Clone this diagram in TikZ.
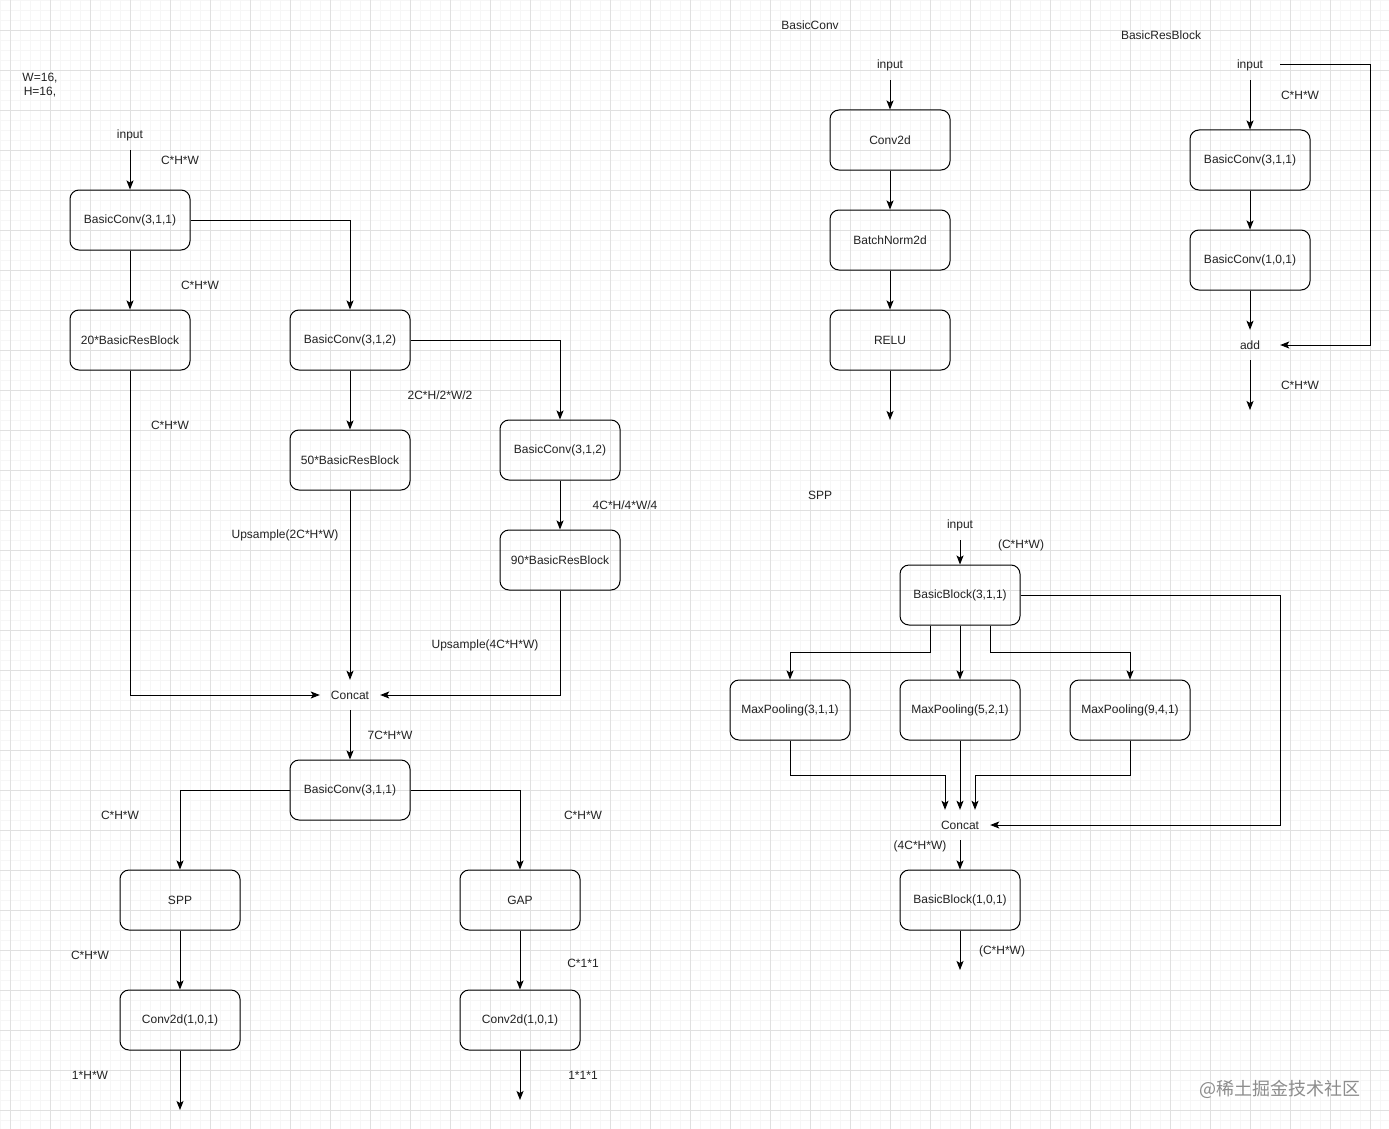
\documentclass[tikz,border=0pt]{standalone}
\usepackage{fontspec}
\setmainfont{Liberation Sans}
\newfontfamily\cjkfont{Noto Sans CJK SC}
\usetikzlibrary{arrows.meta}
\definecolor{gridmajor}{HTML}{E0E0E0}
\definecolor{gridminor}{HTML}{F6F6F6}
\definecolor{txt}{HTML}{222222}
\begin{document}
\begin{tikzpicture}[x=1pt,y=-1pt,
  every node/.style={font=\fontsize{12}{14}\selectfont, text=txt},
  box/.style={draw, rounded corners=9pt, line width=1pt, minimum width=120pt, minimum height=60pt, inner sep=0pt},
  term/.style={minimum width=60pt, minimum height=30pt, inner sep=0pt},
  lbl/.style={inner sep=0pt},
  conn/.style={line width=1pt, -{Stealth[length=9pt,width=7pt,inset=2pt]}},
  wire/.style={line width=1pt}]
\useasboundingbox (0,0) rectangle (1389,1129);
\fill[white] (0,0) rectangle (1389,1129);
% grid
\foreach \i in {0,10,...,1380} \draw[gridminor, line width=0.6pt] (\i,0) -- (\i,1129);
\foreach \j in {0,10,...,1120} \draw[gridminor, line width=0.6pt] (0,\j) -- (1389,\j);
\foreach \i in {10,50,...,1370} \draw[gridmajor, line width=0.8pt] (\i,0) -- (\i,1129);
\foreach \j in {30,70,...,1110} \draw[gridmajor, line width=0.8pt] (0,\j) -- (1389,\j);

% ---------------- left diagram ----------------
\node[lbl, align=center] (wh) at (40,85) {W=16,\\H=16,};
\node[term] (in1) at (130,135) {input};
\node[box] (bc1) at (130,220) {BasicConv(3,1,1)};
\node[box] (rb20) at (130,340) {20*BasicResBlock};
\node[box] (bc2) at (350,340) {BasicConv(3,1,2)};
\node[box] (rb50) at (350,460) {50*BasicResBlock};
\node[box] (bc3) at (560,450) {BasicConv(3,1,2)};
\node[box] (rb90) at (560,560) {90*BasicResBlock};
\node[term] (cat1) at (350,695) {Concat};
\node[box] (bc4) at (350,790) {BasicConv(3,1,1)};
\node[box] (spp) at (180,900) {SPP};
\node[box] (gap) at (520,900) {GAP};
\node[box] (cv1) at (180,1020) {Conv2d(1,0,1)};
\node[box] (cv2) at (520,1020) {Conv2d(1,0,1)};
\coordinate (o1) at (180,1110);
\coordinate (o2) at (520,1100);

\node[lbl] (l1) at (180,160) {C*H*W};
\node[lbl] (l2) at (200,285) {C*H*W};
\node[lbl] (l3) at (170,425) {C*H*W};
\node[lbl] (l4) at (440,395) {2C*H/2*W/2};
\node[lbl] (l5) at (625,505) {4C*H/4*W/4};
\node[lbl] (l6) at (285,535) {Upsample(2C*H*W)};
\node[lbl] (l7) at (485,645) {Upsample(4C*H*W)};
\node[lbl] (l8) at (390,735) {7C*H*W};
\node[lbl] (l9) at (120,815) {C*H*W};
\node[lbl] (l10) at (583,815) {C*H*W};
\node[lbl] (l11) at (90,955) {C*H*W};
\node[lbl] (l12) at (583,963) {C*1*1};
\node[lbl] (l13) at (90,1075) {1*H*W};
\node[lbl] (l14) at (583,1075) {1*1*1};

\draw[conn] (in1.south) -- (bc1.north);
\draw[conn] (bc1.south) -- (rb20.north);
\draw[conn] (bc1.east) -| (bc2.north);
\draw[conn] (bc2.south) -- (rb50.north);
\draw[conn] (bc2.east) -| (bc3.north);
\draw[conn] (bc3.south) -- (rb90.north);
\draw[conn] (rb20.south) |- (cat1.west);
\draw[conn] (rb50.south) -- (cat1.north);
\draw[conn] (rb90.south) |- (cat1.east);
\draw[conn] (cat1.south) -- (bc4.north);
\draw[conn] (bc4.west) -| (spp.north);
\draw[conn] (bc4.east) -| (gap.north);
\draw[conn] (spp.south) -- (cv1.north);
\draw[conn] (gap.south) -- (cv2.north);
\draw[conn] (cv1.south) -- (o1);
\draw[conn] (cv2.south) -- (o2);

% ---------------- BasicConv ----------------
\node[lbl] (t1) at (810,25) {BasicConv};
\node[term] (in2) at (890,65) {input};
\node[box] (c2d) at (890,140) {Conv2d};
\node[box] (bn) at (890,240) {BatchNorm2d};
\node[box] (relu) at (890,340) {RELU};
\coordinate (o3) at (890,420);
\draw[conn] (in2.south) -- (c2d.north);
\draw[conn] (c2d.south) -- (bn.north);
\draw[conn] (bn.south) -- (relu.north);
\draw[conn] (relu.south) -- (o3);

% ---------------- BasicResBlock ----------------
\node[lbl] (t2) at (1161,35) {BasicResBlock};
\node[term] (in3) at (1250,65) {input};
\node[box] (r1) at (1250,160) {BasicConv(3,1,1)};
\node[box] (r2) at (1250,260) {BasicConv(1,0,1)};
\node[term] (add) at (1250,345) {add};
\coordinate (o4) at (1250,410);
\coordinate (rc) at (1370,65);
\node[lbl] (l15) at (1300,95) {C*H*W};
\node[lbl] (l16) at (1300,385) {C*H*W};
\draw[conn] (in3.south) -- (r1.north);
\draw[conn] (r1.south) -- (r2.north);
\draw[conn] (r2.south) -- (add.north);
\draw[conn] (add.south) -- (o4);
\draw[conn] (in3.east) -- (rc) |- (add.east);

% ---------------- SPP ----------------
\node[lbl] (t3) at (820,495) {SPP};
\node[term] (in4) at (960,525) {input};
\node[lbl] (l17) at (1021,545) {(C*H*W)};
\node[box] (bb1) at (960,595) {BasicBlock(3,1,1)};
\node[box] (mp1) at (790,710) {MaxPooling(3,1,1)};
\node[box] (mp2) at (960,710) {MaxPooling(5,2,1)};
\node[box] (mp3) at (1130,710) {MaxPooling(9,4,1)};
\node[term] (cat2) at (960,825) {Concat};
\node[lbl] (l18) at (920,846) {(4C*H*W)};
\node[box] (bb2) at (960,900) {BasicBlock(1,0,1)};
\node[lbl] (l19) at (1002,951) {(C*H*W)};
\coordinate (o5) at (960,970);
\coordinate (sc) at (1280,595);
\draw[conn] (in4.south) -- (bb1.north);
\draw[conn] ([xshift=-30pt]bb1.south) -- ++(0,27) -| (mp1.north);
\draw[conn] (bb1.south) -- (mp2.north);
\draw[conn] ([xshift=30pt]bb1.south) -- ++(0,27) -| (mp3.north);
\draw[conn] (mp1.south) -- ++(0,35) -| ([xshift=-15pt]cat2.north);
\draw[conn] (mp2.south) -- (cat2.north);
\draw[conn] (mp3.south) -- ++(0,35) -| ([xshift=15pt]cat2.north);
\draw[conn] (bb1.east) -- (sc) |- (cat2.east);
\draw[conn] (cat2.south) -- (bb2.north);
\draw[conn] (bb2.south) -- (o5);

% watermark
\node[lbl, font=\cjkfont\fontsize{18}{20}\selectfont, text=black!45] (wm) at (1280,1089) {@稀土掘金技术社区};
\end{tikzpicture}
\end{document}
